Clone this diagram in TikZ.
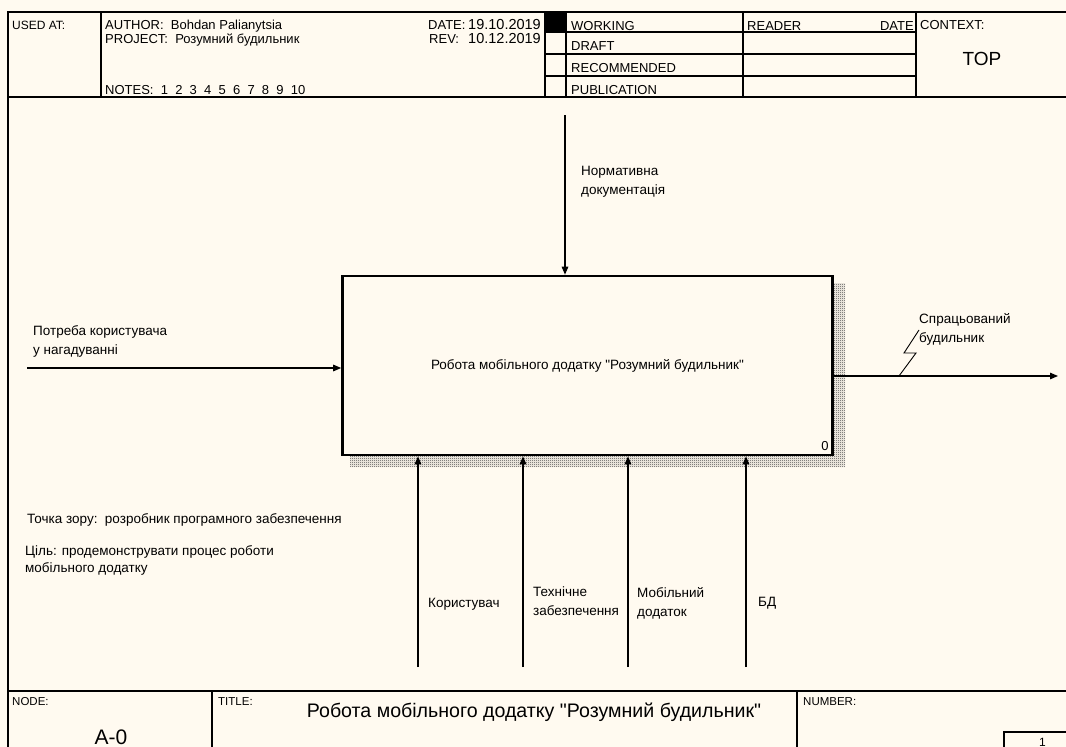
\documentclass[tikz,border=0pt]{standalone}
\usepackage{fontspec}
\setmainfont{Liberation Sans}[Ligatures=TeXOff]
\usetikzlibrary{arrows.meta,patterns}
\definecolor{bg}{HTML}{FFFAF0}
\pgfdeclarepatternformonly{checker}{\pgfqpoint{0pt}{0pt}}{\pgfqpoint{2pt}{2pt}}{\pgfqpoint{2pt}{2pt}}{%
  \pgfpathrectangle{\pgfqpoint{0pt}{0pt}}{\pgfqpoint{1pt}{1pt}}%
  \pgfpathrectangle{\pgfqpoint{1pt}{1pt}}{\pgfqpoint{1pt}{1pt}}%
  \pgfusepath{fill}}
\begin{document}
\begin{tikzpicture}[x=1pt,y=-1pt,
  frame/.style={line width=1.3pt, black},
  hdr/.style={font=\fontsize{13}{15}\selectfont, inner sep=0pt, anchor=base west},
  small/.style={font=\fontsize{11.5}{13}\selectfont, inner sep=0pt, anchor=base west},
  lbl/.style={font=\fontsize{13.5}{19}\selectfont, inner sep=0pt, align=left, anchor=north west},
  arr/.style={line width=1.3pt, -{Triangle[length=8pt,width=6.5pt]}},
  act/.style={draw, line width=2.6pt, fill=bg, minimum width=490pt, minimum height=179pt, inner sep=0pt, font=\fontsize{13.5}{16}\selectfont}]
\useasboundingbox (0,0) rectangle (1066,747);
\fill[bg] (0,0) rectangle (1066,747);
\begin{scope}
\clip (0,0) rectangle (1066,747);
% frame
\draw[frame] (8,760) -- (8,12) -- (1070,12);
\draw[frame] (8,97) -- (1070,97);
\draw[frame] (101,12) -- (101,97);
\draw[frame] (545,12) -- (545,97);
\draw[frame] (566,12) -- (566,97);
\draw[frame] (743,12) -- (743,97);
\draw[frame] (916,12) -- (916,97);
\draw[frame] (545,32) -- (916,32);
\draw[frame] (545,54) -- (916,54);
\draw[frame] (545,76) -- (916,76);
\fill[black] (545,12) rectangle (566,32);
\draw[frame] (8,691) -- (1070,691);
\draw[frame] (212,691) -- (212,760);
\draw[frame] (797,691) -- (797,760);
\draw[frame] (1004,760) -- (1004,732) -- (1070,732);
% header texts
\node[hdr, font=\fontsize{12}{14}\selectfont] (usedat) at (12,29) {USED AT:};
\node[hdr] (author) at (105,29) {AUTHOR:\ \ Bohdan Palianytsia};
\node[hdr] (project) at (105,43) {PROJECT:\ \ Розумний будильник};
\node[hdr] (notes) at (105,94) {NOTES:\ \ 1\ \ 2\ \ 3\ \ 4\ \ 5\ \ 6\ \ 7\ \ 8\ \ 9\ \ 10};
\node[hdr] (date) at (428,29) {DATE:};
\node[hdr, font=\fontsize{14.5}{16}\selectfont, anchor=base east] (dated) at (541,29) {19.10.2019};
\node[hdr] (rev) at (429,43) {REV:};
\node[hdr, font=\fontsize{14.5}{16}\selectfont, anchor=base east] (revd) at (541,43) {10.12.2019};
\node[hdr] (working) at (571,30) {WORKING};
\node[hdr] (draft) at (571,50) {DRAFT};
\node[hdr] (recom) at (571,72) {RECOMMENDED};
\node[hdr] (publ) at (571,94) {PUBLICATION};
\node[hdr] (reader) at (747,30) {READER};
\node[hdr, anchor=base east] (rdate) at (914,30) {DATE};
\node[hdr] (context) at (920,29) {CONTEXT:};
\node[font=\fontsize{19}{22}\selectfont, inner sep=0pt, anchor=base] (top) at (982,65) {TOP};
% bottom texts
\node[small] (nodelbl) at (12,705) {NODE:};
\node[font=\fontsize{21}{24}\selectfont, inner sep=0pt, anchor=base] (nodenum) at (111,744) {A-0};
\node[small] (titlelbl) at (218,705) {TITLE:};
\node[font=\fontsize{19.6}{22}\selectfont, inner sep=0pt, anchor=base] (title) at (534,717) {Робота мобільного додатку "Розумний будильник"};
\node[small] (numberlbl) at (803,705) {NUMBER:};
\node[hdr, font=\fontsize{12}{14}\selectfont] (pagenum) at (1039,746) {1};
\end{scope}
% shadow
\fill[pattern=checker, pattern color=black!75] (350,455) -- (833,455) -- (833,283) -- (845,283) -- (845,467) -- (350,467) -- cycle;
% activity box
\node[act] (A0) at (587.5,365.5) {Робота мобільного додатку "Розумний будильник"};
\node[font=\fontsize{13}{15}\selectfont, inner sep=0pt, anchor=south east] (A0n) at ([xshift=-5pt,yshift=5pt]A0.south east) {0};
% arrows
\coordinate (ctl) at (565,115);
\draw[arr] (ctl) -- (ctl |- A0.north);
\coordinate (inp) at (27,368);
\draw[arr] (inp) -- (inp -| A0.west);
\coordinate (outp) at (1058,376);
\draw[arr] (A0.east |- outp) -- (outp);
\coordinate (m1) at (418,667);
\coordinate (m2) at (523,667);
\coordinate (m3) at (628,667);
\coordinate (m4) at (746,667);
\foreach \m in {m1,m2,m3,m4} \draw[arr] (\m) -- (\m |- A0.south);
% labels
\node[lbl] (lctl) at (581,166) {Нормативна\\документація};
\node[lbl] (linp) at (33,325) {Потреба користувача\\у нагадуванні};
\node[lbl] (lout) at (919,313) {Спрацьований\\будильник};
\coordinate (sq1) at (899,376);
\draw[line width=0.9pt] (sq1) -- (916,353) -- (904,353) -- (919,330);
\node[lbl] (lm1) at (428,598) {Користувач};
\node[lbl] (lm2) at (533,587) {Технічне\\забезпечення};
\node[lbl] (lm3) at (637,587) {Мобільний\\додаток};
\node[lbl] (lm4) at (758,597) {БД};
\node[lbl] (view) at (27,513) {Точка зору:\ \ розробник програмного забезпечення};
\node[lbl, font=\fontsize{13.5}{17}\selectfont] (purpose) at (25,545) {Ціль: продемонструвати процес роботи\\мобільного додатку};
\end{tikzpicture}
\end{document}
